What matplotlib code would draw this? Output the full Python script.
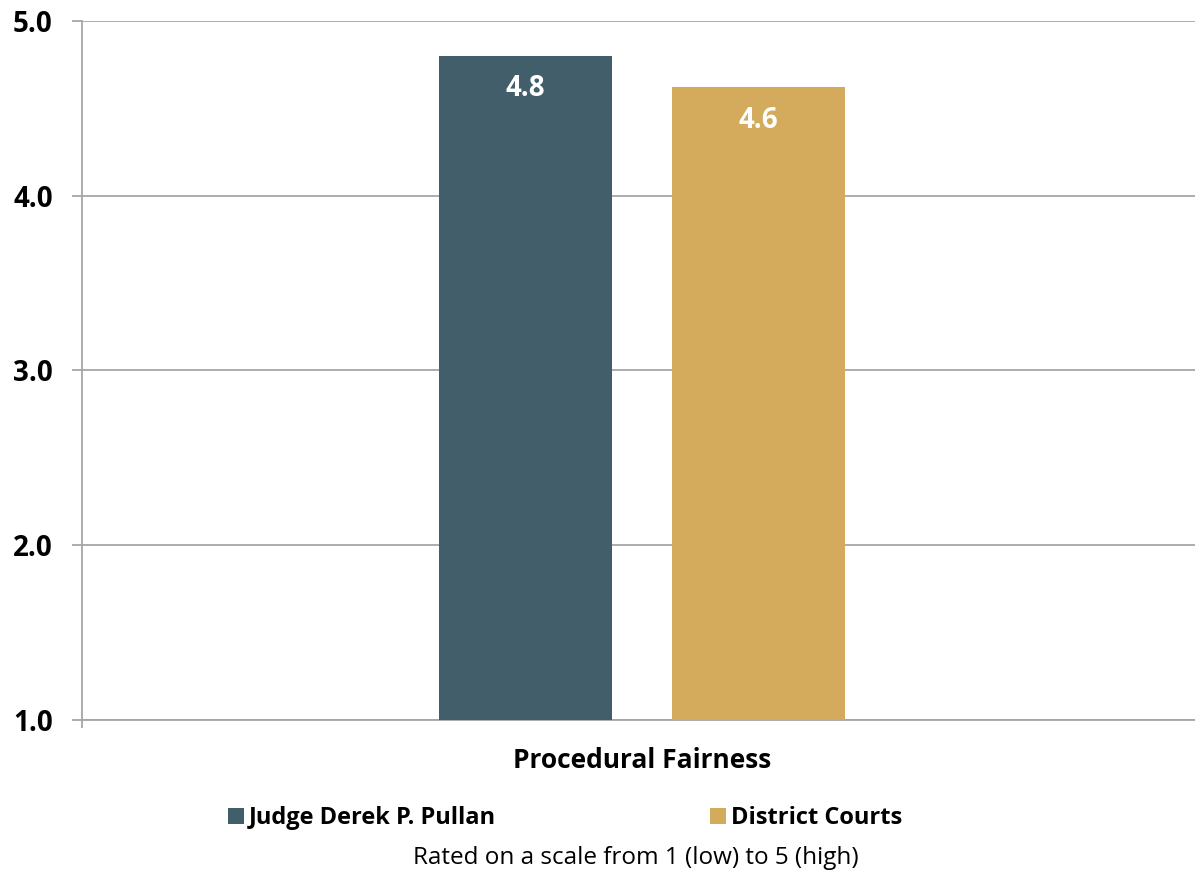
import numpy as np
import matplotlib.pyplot as plt
from matplotlib.patches import Patch

plt.rcParams['font.family'] = ['Open Sans', 'DejaVu Sans']

# data
category = "Procedural Fairness"
series = ["Judge Derek P. Pullan", "District Courts"]
values = [4.80, 4.62]
colors = ["#425E6A", "#D4AB5C"]
yticks = [1.0, 2.0, 3.0, 4.0, 5.0]
caption = "Rated on a scale from 1 (low) to 5 (high)"

fig = plt.figure(figsize=(11.95, 8.73), dpi=100)
ax = fig.add_axes([82 / 1195, 1 - 720 / 873, (1195 - 82) / 1195, (720 - 21) / 873])

bar_w = 0.1554
center = 0.003
offsets = [-0.1047, 0.1047]
grid_col = "#A6A6A6"

for off, val, col in zip(offsets, values, colors):
    ax.bar(center + off, val - 1.0, bottom=1.0, width=bar_w, color=col, zorder=3)
    ax.annotate(f"{val:.1f}", xy=(center + off, val), xytext=(0, -33),
                textcoords="offset pixels", ha="center", va="center",
                color="white", fontsize=20, fontweight="bold", zorder=4)

ax.set_xlim(-0.5, 0.5)
ax.set_ylim(1.0, 5.0)
ax.set_yticks(yticks)
ax.set_yticklabels([f"{t:.1f}" for t in yticks], fontsize=20, fontweight="bold")
ax.yaxis.grid(True, color=grid_col, linewidth=1.3, zorder=0)
ax.tick_params(axis="y", length=7, width=1.3, color=grid_col, pad=14)
ax.set_xticks([-0.5])
ax.set_xticklabels([""])
ax.tick_params(axis="x", length=6, width=1.3, color=grid_col)

for side in ["top", "right"]:
    ax.spines[side].set_visible(False)
for side in ["left", "bottom"]:
    ax.spines[side].set_color(grid_col)
    ax.spines[side].set_linewidth(1.3)

fig.text(642 / 1195, 1 - 760 / 873, category, ha="center", va="center",
         fontsize=19, fontweight="bold")

handles = [Patch(facecolor=c, edgecolor="none") for c in colors]
leg = fig.legend(handles, series, loc="center", bbox_to_anchor=(565 / 1195, 1 - 818 / 873),
                 ncol=2, frameon=False, prop={"size": 17, "weight": "bold"},
                 handlelength=0.68, handleheight=0.68, handletextpad=0.2,
                 columnspacing=9.1, borderpad=0, borderaxespad=0)

fig.text(636 / 1195, 1 - 858 / 873, caption, ha="center", va="center", fontsize=17.5)

fig.savefig("out.png", dpi=100)
